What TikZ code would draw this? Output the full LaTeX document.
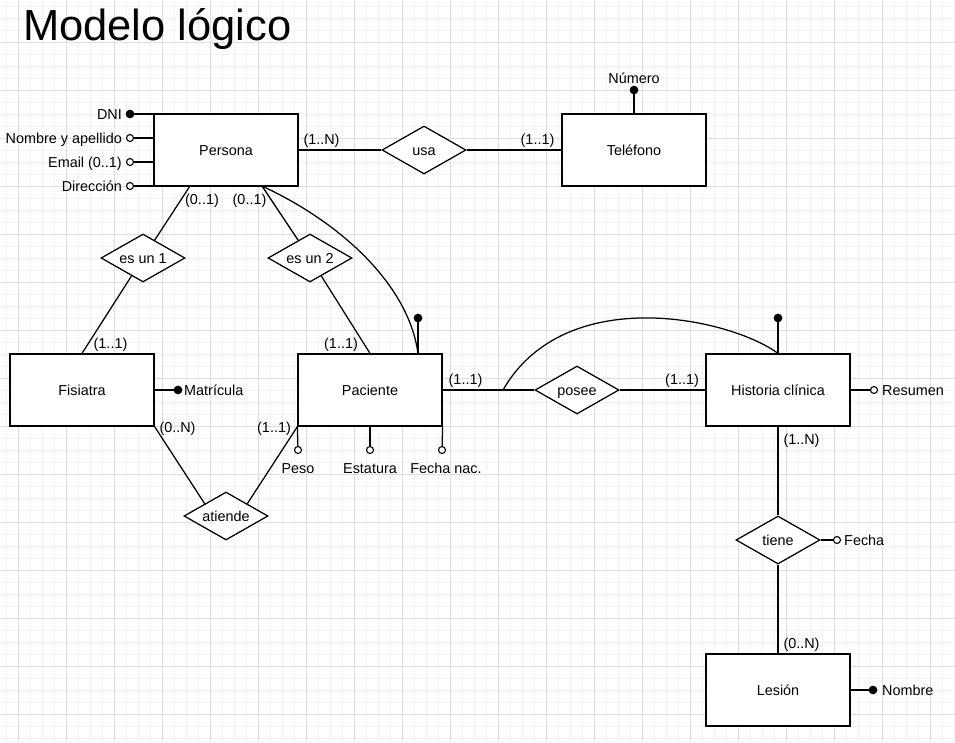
\documentclass[tikz,border=0pt]{standalone}
\usepackage{fontspec}
\setmainfont{Liberation Sans}
\usetikzlibrary{shapes.geometric}
\begin{document}
\begin{tikzpicture}[x=1pt,y=-1pt,
  every node/.style={font=\fontsize{14.4}{17}\selectfont, inner sep=0pt},
  ent/.style={draw, line width=1.25pt, fill=white, minimum width=144pt, minimum height=72pt,
              text height=11pt, text depth=1pt},
  rel/.style={diamond, draw, line width=1.25pt, fill=white, aspect=1.75,
              minimum width=84pt, minimum height=48pt, text height=11pt, text depth=1pt},
  link/.style={line width=1.25pt},
  keyattr/.style={circle, draw, fill=black, line width=1.1pt, minimum size=7.5pt},
  optattr/.style={circle, draw, fill=white, line width=1.1pt, minimum size=7pt},
  minorline/.style={line width=1pt, draw=black!5},
  majorline/.style={line width=1pt, draw=black!13}
]
% canvas and grid
\useasboundingbox (0,0) rectangle (955,742);
\fill[white] (0,0) rectangle (955,742);
\foreach \i in {0,...,79} \draw[minorline] ({6+12*\i},0) -- ({6+12*\i},742);
\foreach \i in {0,...,61} \draw[minorline] (0,{6+12*\i}) -- (955,{6+12*\i});
\foreach \i in {0,...,19} \draw[majorline] ({18+48*\i},0) -- ({18+48*\i},742);
\foreach \i in {0,...,14} \draw[majorline] (0,{42+48*\i}) -- (955,{42+48*\i});

% title
\node[anchor=base west, font=\fontsize{43.5}{50}\selectfont] (title) at (23,40) {Modelo lógico};

% entities
\node[ent] (persona) at (226,150) {Persona};
\node[ent] (telefono) at (634,150) {Teléfono};
\node[ent] (fisiatra) at (82,390) {Fisiatra};
\node[ent] (paciente) at (370,390) {Paciente};
\node[ent] (historia) at (778,390) {Historia clínica};
\node[ent] (lesion) at (778,690) {Lesión};

% relationships
\node[rel] (usa) at (424,150) {usa};
\node[rel] (esun1) at (143,258) {es un 1};
\node[rel] (esun2) at (310,258) {es un 2};
\node[rel] (posee) at (577,390) {posee};
\node[rel] (atiende) at (226,516) {atiende};
\node[rel] (tiene) at (778,540) {tiene};

% attribute markers
\node[keyattr] (cdni) at (130,114) {};
\node[optattr] (cnom) at (130,138) {};
\node[optattr] (cmail) at (130,162) {};
\node[optattr] (cdir) at (130,186) {};
\node[keyattr] (cnum) at (634,90) {};
\node[keyattr] (cmat) at (178,390) {};
\node[optattr] (cpeso) at (298,450) {};
\node[optattr] (cest) at (370,450) {};
\node[optattr] (cfnac) at (442,450) {};
\node[keyattr] (cpkey) at (418,318) {};
\node[keyattr] (chkey) at (778,318) {};
\node[optattr] (cres) at (874,390) {};
\node[optattr] (cfecha) at (837,540) {};
\node[keyattr] (cnomb) at (873,690) {};

% attribute names
\node[anchor=base east] (tdni) at (122,119) {DNI};
\node[anchor=base east] (tnom) at (122,143) {Nombre y apellido};
\node[anchor=base east] (tmail) at (122,167) {Email (0..1)};
\node[anchor=base east] (tdir) at (122,191) {Dirección};
\node[anchor=base] (tnum) at (634,83) {Número};
\node[anchor=base west] (tmat) at (184,395) {Matrícula};
\node[anchor=base] (tpeso) at (298,473) {Peso};
\node[anchor=base] (test) at (370,473) {Estatura};
\node[anchor=base] (tfnac) at (446,473) {Fecha nac.};
\node[anchor=base west] (tres) at (882,395) {Resumen};
\node[anchor=base west] (tfecha) at (844,545) {Fecha};
\node[anchor=base west] (tnomb) at (882,695) {Nombre};

% cardinalities
\node[anchor=base] (k1) at (321.5,144) {(1..N)};
\node[anchor=base] (k2) at (537.5,144) {(1..1)};
\node[anchor=base] (k3) at (202,204) {(0..1)};
\node[anchor=base] (k4) at (249.5,204) {(0..1)};
\node[anchor=base] (k5) at (110.5,348) {(1..1)};
\node[anchor=base] (k6) at (341,348) {(1..1)};
\node[anchor=base] (k7) at (177.5,432) {(0..N)};
\node[anchor=base] (k8) at (274,432) {(1..1)};
\node[anchor=base] (k9) at (465.5,384) {(1..1)};
\node[anchor=base] (k10) at (682,384) {(1..1)};
\node[anchor=base] (k11) at (801.5,444) {(1..N)};
\node[anchor=base] (k12) at (801.5,648) {(0..N)};

% edge end points on entity borders
\coordinate (p1) at (190,186);
\coordinate (p2) at (262,186);
\coordinate (pk) at (418,354);
\coordinate (hs) at (503,390);

% attribute links
\draw[link] (cdni) -- (cdni -| persona.west);
\draw[link] (cnom) -- (cnom -| persona.west);
\draw[link] (cmail) -- (cmail -| persona.west);
\draw[link] (cdir) -- (cdir -| persona.west);
\draw[link] (telefono.north) -- (cnum);
\draw[link] (fisiatra.east) -- (cmat);
\draw[link] (paciente.south west) -- (cpeso);
\draw[link] (paciente.south) -- (cest);
\draw[link] (paciente.south east) -- (cfnac);
\draw[link] (pk) -- (cpkey);
\draw[link] (historia.north) -- (chkey);
\draw[link] (historia.east) -- (cres);
\draw[link] (tiene.east) -- (cfecha);
\draw[link] (lesion.east) -- (cnomb);

% relationship links
\draw[link] (persona.east) -- (usa.west);
\draw[link] (usa.east) -- (telefono.west);
\draw[link] (p1) -- (esun1);
\draw[link] (esun1) -- (fisiatra.north);
\draw[link] (p2) -- (esun2);
\draw[link] (esun2) -- (paciente.north);
\draw[link] (paciente.east) -- (posee.west);
\draw[link] (posee.east) -- (historia.west);
\draw[link] (historia.south) -- (tiene.north);
\draw[link] (tiene.south) -- (lesion.north);
\draw[link] (fisiatra.south east) -- (atiende.north west);
\draw[link] (paciente.south west) -- (atiende.north east);

% identifier arcs
\draw[link] (p2) .. controls (348,226) and (410,290) .. (pk);
\draw[link] (hs) .. controls (565,282) and (730,318) .. (historia.north);
\end{tikzpicture}
\end{document}
